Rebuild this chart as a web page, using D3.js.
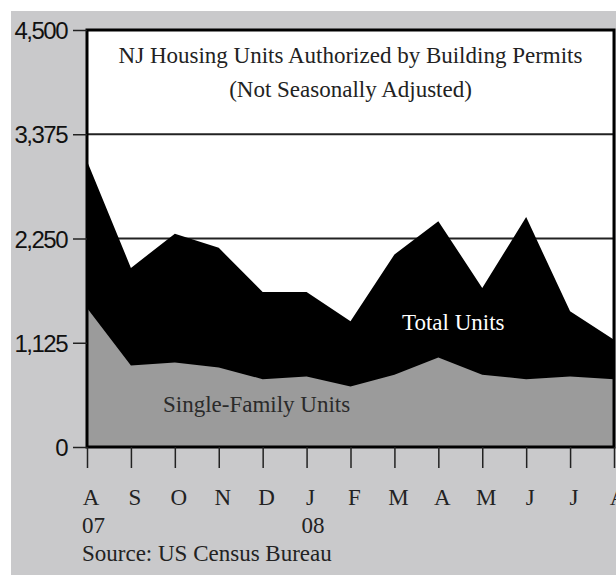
<!DOCTYPE html>
<html>
<head>
<meta charset="utf-8">
<script src="https://cdn.jsdelivr.net/npm/d3@7"></script>
<style>
	body { margin: 0; background: #ffffff; }
	svg { display: block; }
</style>
</head>
<body>
<svg id="chart"></svg>
<script>
// Data.
var months = ["A", "S", "O", "N", "D", "J", "F", "M", "A", "M", "J", "J", "A"];
var yearLabels = ["07", "", "", "", "", "08", "", "", "", "", "", "", ""];
var totalUnits = [3086, 1933, 2300, 2149, 1673, 1673, 1356, 2077, 2437, 1716, 2481, 1464, 1157];
var singleFamilyUnits = [1500, 880, 912, 858, 732, 761, 652, 779, 966, 779, 732, 761, 732];
var yTicks = [0, 1125, 2250, 3375, 4500];

// Definitions.
var chartWidth = 616;
var chartHeight = 576;
var plotLeft = 87;
var plotRight = 614;
var plotTop = 30;
var plotBottom = 447;
var serif = "'Liberation Serif', 'Times New Roman', serif";
var serifSize = "23px";

var svg = d3.select("#chart")
	.attr("width", chartWidth)
	.attr("height", chartHeight);

// Gray backdrop.
svg.append("rect")
	.attr("x", 11)
	.attr("y", 11)
	.attr("width", chartWidth - 11)
	.attr("height", chartHeight - 12)
	.attr("fill", "#c9c9cb");

var x = d3.scalePoint()
	.domain(d3.range(months.length))
	.range([plotLeft, plotRight]);
var y = d3.scaleLinear()
	.domain([0, 4500])
	.range([plotBottom, plotTop]);

// Plot area.
svg.append("rect")
	.attr("x", plotLeft)
	.attr("y", plotTop)
	.attr("width", plotRight - plotLeft)
	.attr("height", plotBottom - plotTop)
	.attr("fill", "#ffffff");

// Gridlines.
svg.selectAll(".grid")
	.data(yTicks.slice(1, 4))
	.enter()
	.append("line")
	.attr("x1", plotLeft)
	.attr("x2", plotRight)
	.attr("y1", function(d) { return y(d); })
	.attr("y2", function(d) { return y(d); })
	.attr("stroke", "#222")
	.attr("stroke-width", 2);

// Areas.
var area = d3.area()
	.x(function(d, i) { return x(i); })
	.y0(y(0))
	.y1(function(d) { return y(d); });
svg.append("path")
	.datum(totalUnits)
	.attr("d", area)
	.attr("fill", "#000000");
svg.append("path")
	.datum(singleFamilyUnits)
	.attr("d", area)
	.attr("fill", "#9b9b9b");

// Border.
svg.append("rect")
	.attr("x", plotLeft)
	.attr("y", plotTop)
	.attr("width", plotRight - plotLeft)
	.attr("height", plotBottom - plotTop)
	.attr("fill", "none")
	.attr("stroke", "#000")
	.attr("stroke-width", 3);

// Y axis.
var yAxis = svg.append("g")
	.attr("transform", "translate(" + plotLeft + ",0)")
	.call(d3.axisLeft(y).tickValues(yTicks).tickSize(14).tickPadding(6).tickFormat(d3.format(",")));
yAxis.select(".domain").remove();
yAxis.selectAll(".tick line").attr("stroke", "#222").attr("stroke-width", 1.5);
yAxis.selectAll(".tick text")
	.attr("fill", "#111")
	.style("font-family", "'Liberation Sans', Arial, sans-serif")
	.style("font-size", "24px")
	.style("letter-spacing", "-1.5px")
	.attr("dy", "0.36em");

// X axis.
var xAxis = svg.append("g")
	.attr("transform", "translate(0," + plotBottom + ")")
	.call(d3.axisBottom(x).tickSize(21).tickFormat(""));
xAxis.select(".domain").remove();
xAxis.selectAll(".tick line").attr("stroke", "#222").attr("stroke-width", 1.5);

svg.selectAll(".month")
	.data(months)
	.enter()
	.append("text")
	.attr("x", function(d, i) { return x(i) + 4; })
	.attr("y", 505)
	.attr("text-anchor", "middle")
	.attr("fill", "#222")
	.style("font-family", serif)
	.style("font-size", serifSize)
	.text(function(d) { return d; });
svg.selectAll(".year")
	.data(yearLabels)
	.enter()
	.append("text")
	.attr("x", function(d, i) { return x(i) - 5; })
	.attr("y", 533)
	.attr("fill", "#222")
	.style("font-family", serif)
	.style("font-size", serifSize)
	.text(function(d) { return d; });

svg.append("text")
	.attr("x", 82)
	.attr("y", 561)
	.attr("fill", "#222")
	.style("font-family", serif)
	.style("font-size", serifSize)
	.text("Source: US Census Bureau");

// Title.
var midX = (plotLeft + plotRight) / 2;
svg.append("text")
	.attr("x", midX)
	.attr("y", 63)
	.attr("text-anchor", "middle")
	.attr("fill", "#222")
	.style("font-family", serif)
	.style("font-size", serifSize)
	.text("NJ Housing Units Authorized by Building Permits");
svg.append("text")
	.attr("x", midX)
	.attr("y", 97)
	.attr("text-anchor", "middle")
	.attr("fill", "#222")
	.style("font-family", serif)
	.style("font-size", serifSize)
	.text("(Not Seasonally Adjusted)");

// Series labels.
svg.append("text")
	.attr("x", 402)
	.attr("y", 330)
	.attr("fill", "#ffffff")
	.style("font-family", serif)
	.style("font-size", serifSize)
	.text("Total Units");
svg.append("text")
	.attr("x", 163)
	.attr("y", 412)
	.attr("fill", "#2a2a2a")
	.style("font-family", serif)
	.style("font-size", serifSize)
	.text("Single-Family Units");
</script>
</body>
</html>
